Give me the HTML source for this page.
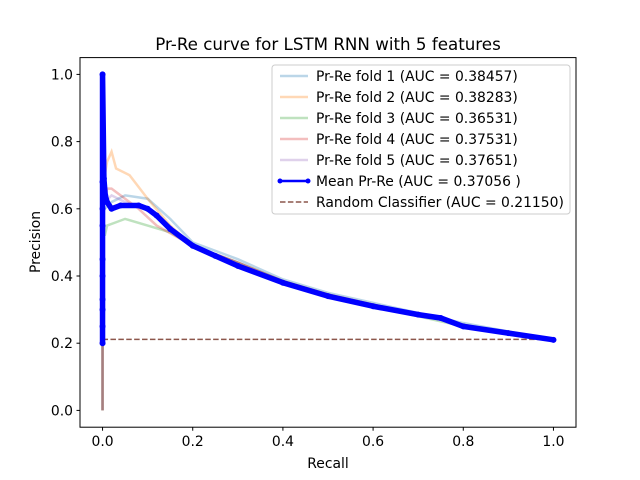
<!DOCTYPE html>
<html><head><meta charset="utf-8"><style>
body{margin:0;background:#fff}
svg{display:block;font-family:"DejaVu Sans","Liberation Sans",sans-serif}
</style></head><body>
<svg id="chart" width="640" height="480" viewBox="0 0 640 480">
<rect width="640" height="480" fill="#fff"/>
<text x="328" y="50" text-anchor="middle" font-size="16.7">Pr-Re curve for LSTM RNN with 5 features</text>
<g id="plot"></g>
<rect x="80" y="57.6" width="496" height="369.6" fill="none" stroke="#000" stroke-width="1"/>
<g id="ticks"></g>
<text x="328" y="468" text-anchor="middle" font-size="13.9">Recall</text>
<text transform="translate(40,242) rotate(-90)" text-anchor="middle" font-size="13.9">Precision</text>
<g id="legend"></g>
</svg>
<script>
const xTicks=[0,0.2,0.4,0.6,0.8,1.0];
const yTicks=[0,0.2,0.4,0.6,0.8,1.0];
const f1R=[0,0,0.005,0.02,0.05,0.1,0.15,0.2,0.3,0.4,0.5,0.6,0.7,0.8,0.9,1.0];
const f1P=[0,0.6,0.6,0.62,0.64,0.63,0.57,0.5,0.45,0.39,0.35,0.32,0.29,0.26,0.235,0.21];
const f2R=[0,0,0.005,0.01,0.02,0.03,0.06,0.1,0.15,0.2,0.3,0.4,0.5,0.6,0.7,0.8,0.9,1.0];
const f2P=[0,0.86,0.7,0.74,0.77,0.72,0.70,0.63,0.55,0.49,0.44,0.385,0.345,0.315,0.285,0.255,0.23,0.21];
const f3R=[0,0,0.005,0.01,0.03,0.05,0.1,0.15,0.2,0.3,0.4,0.5,0.6,0.7,0.8,0.9,1.0];
const f3P=[0,0.55,0.52,0.55,0.56,0.57,0.55,0.53,0.49,0.44,0.385,0.345,0.31,0.28,0.25,0.23,0.21];
const f4R=[0,0,0.005,0.01,0.02,0.05,0.08,0.12,0.2,0.3,0.4,0.5,0.6,0.7,0.8,0.9,1.0];
const f4P=[0,0.78,0.62,0.66,0.66,0.63,0.60,0.55,0.49,0.44,0.385,0.345,0.315,0.285,0.255,0.23,0.21];
const f5R=[0,0,0.005,0.02,0.05,0.1,0.2,0.3,0.4,0.5,0.6,0.7,0.8,0.9,1.0];
const f5P=[0,0.7,0.62,0.64,0.62,0.6,0.49,0.44,0.385,0.345,0.315,0.285,0.255,0.23,0.21];
const meanR=[0,0,0,0,0,0,0,0,0,0,0.003,0.006,0.01,0.02,0.04,0.08,0.1,0.12,0.15,0.2,0.25,0.3,0.4,0.5,0.6,0.7,0.75,0.8,0.9,1.0];
const meanP=[0.2,0.25,0.3,0.33,0.4,0.45,0.55,0.6,0.68,1.0,0.69,0.64,0.62,0.60,0.61,0.61,0.60,0.58,0.54,0.49,0.46,0.43,0.38,0.34,0.31,0.285,0.275,0.25,0.23,0.21];
const randR=[0,1];
const randP=[0.2115,0.2115];
const X=v=>80+(v+0.05)/1.1*496, Y=v=>427.2-(v+0.05)/1.1*369.6;
const NS="http://www.w3.org/2000/svg";
function mk(t,a,p){const e=document.createElementNS(NS,t);for(const k in a)e.setAttribute(k,a[k]);p.appendChild(e);return e;}
const plot=document.getElementById('plot'), tk=document.getElementById('ticks'), lg=document.getElementById('legend');
const pts=(R,P)=>R.map((r,i)=>X(r)+','+Y(P[i])).join(' ');
const folds=[[f1R,f1P,'#1f77b4'],[f2R,f2P,'#ff7f0e'],[f3R,f3P,'#2ca02c'],[f4R,f4P,'#d62728'],[f5R,f5P,'#9467bd']];
folds.forEach((f,i)=>{
 const e=mk('polyline',{points:pts(f[0],f[1]),fill:'none',stroke:f[2],'stroke-opacity':0.3,'stroke-width':2.5},plot);
 
 
});
const rl=mk('polyline',{points:pts(randR,randP),fill:'none',stroke:'#8c564b','stroke-width':1.5,'stroke-dasharray':'5.5,2.4'},plot);


const ml=mk('polyline',{points:pts(meanR,meanP),fill:'none',stroke:'#0000ff','stroke-width':5.5,'stroke-linejoin':'round','stroke-linecap':'round'},plot);


meanR.forEach((r,i)=>{const c=mk('circle',{cx:X(r),cy:Y(meanP[i]),r:3,fill:'#0000ff'},plot);
 
 });
xTicks.forEach(v=>{mk('line',{x1:X(v),x2:X(v),y1:427.2,y2:430.7,stroke:'#000'},tk);
 const t=mk('text',{x:X(v),y:446,'text-anchor':'middle','font-size':'13.9'},tk);t.textContent=v.toFixed(1);
 
 });
yTicks.forEach(v=>{mk('line',{x1:76.5,x2:80,y1:Y(v),y2:Y(v),stroke:'#000'},tk);
 const t=mk('text',{x:73,y:Y(v)+5,'text-anchor':'end','font-size':'13.9'},tk);t.textContent=v.toFixed(1);
 
 });
const box=mk('rect',{x:272,y:65,width:298,height:149,rx:3,fill:'#fff','fill-opacity':0.8,stroke:'#ccc'},lg);


const labels=['Pr-Re fold 1 (AUC = 0.38457)','Pr-Re fold 2 (AUC = 0.38283)','Pr-Re fold 3 (AUC = 0.36531)','Pr-Re fold 4 (AUC = 0.37531)','Pr-Re fold 5 (AUC = 0.37651)','Mean Pr-Re (AUC = 0.37056 )','Random Classifier (AUC = 0.21150)'];
labels.forEach((s,i)=>{const y=76+i*21;
 if(i<5) mk('line',{x1:280,x2:308,y1:y,y2:y,stroke:folds[i][2],'stroke-opacity':0.3,'stroke-width':2.5},lg);
 else if(i==5){mk('line',{x1:280,x2:308,y1:y,y2:y,stroke:'#0000ff','stroke-width':2.5},lg);mk('circle',{cx:280,cy:y,r:2.5,fill:'#00f'},lg);mk('circle',{cx:308,cy:y,r:2.5,fill:'#00f'},lg);}
 else mk('line',{x1:280,x2:308,y1:y,y2:y,stroke:'#8c564b','stroke-width':1.5,'stroke-dasharray':'5.5,2.4'},lg);
 const t=mk('text',{x:316,y:y+5,'font-size':'13.9'},lg);t.textContent=s;
 
 });
</script>
</body></html>
